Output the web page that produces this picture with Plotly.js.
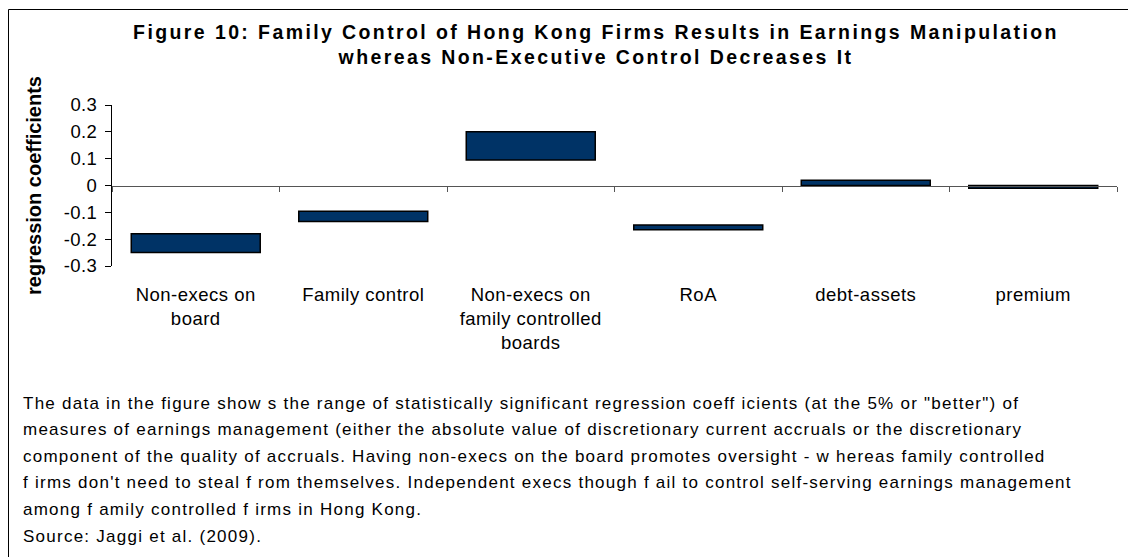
<!DOCTYPE html>
<html>
<head>
<meta charset="utf-8">
<script src="https://cdn.plot.ly/plotly-3.0.1.min.js"></script>
<style>
html, body { margin: 0; padding: 0; background: #fff; }
#chart { width: 1128px; height: 557px; }
#chart .gtitle { letter-spacing: 2.4px; }
#chart .annotation-text { letter-spacing: 1.25px; }
#chart .xtick text { letter-spacing: 0.5px; }
#chart .ytick text { letter-spacing: 0.4px; }
</style>
</head>
<body>
<div id="chart"></div>
<script>
// ---- data ----
const categories = ['Non-execs on board', 'Family control', 'Non-execs on family controlled boards', 'RoA', 'debt-assets', 'premium'];
const categoryLabels = ['Non-execs on<br>board', 'Family control', 'Non-execs on<br>family controlled<br>boards', 'RoA', 'debt-assets', 'premium'];
const lowValues = [-0.25, -0.134, 0.095, -0.165, 0.0, -0.01];
const highValues = [-0.18, -0.096, 0.2, -0.147, 0.02, 0.0];
const yTickVals = [-0.3, -0.2, -0.1, 0, 0.1, 0.2, 0.3];
const yTickText = ['-0.3', '-0.2', '-0.1', '0', '0.1', '0.2', '0.3'];
const titleText = 'Figure 10: Family Control of Hong Kong Firms Results in Earnings Manipulation<br>whereas Non-Executive Control Decreases It';
const yTitle = 'regression coefficients';
const noteLines = [
  'The data in the figure show s the range of statistically significant regression coeff icients (at the 5% or "better") of',
  'measures of earnings management (either the absolute value of discretionary current accruals or the discretionary',
  'component of the quality of accruals. Having non-execs on the board promotes oversight - w hereas family controlled',
  'f irms don\'t need to steal f rom themselves. Independent execs though f ail to control self-serving earnings management',
  'among f amily controlled f irms in Hong Kong.',
  'Source: Jaggi et al. (2009).'
];

// ---- layout geometry ----
const W = 1128, H = 557;
const M = { l: 112, r: 11, t: 105, b: 291 };
const plotW = W - M.l - M.r, plotH = H - M.t - M.b;
const px2x = px => (px - M.l) / plotW;
const py2y = py => (H - M.b - py) / plotH;

const FONT = 'Arial, "Liberation Sans", sans-serif';

const barTrace = {
  type: 'bar',
  x: categories,
  base: lowValues,
  y: highValues.map((h, i) => h - lowValues[i]),
  marker: { color: '#003366', line: { color: '#000000', width: 1.5 } },
  hoverinfo: 'skip',
  showlegend: false
};

// invisible helper trace so the zero-line category axis exists
const axisTrace = {
  type: 'scatter',
  mode: 'none',
  x: categories,
  y: categories.map(() => 0),
  xaxis: 'x2',
  hoverinfo: 'skip',
  showlegend: false
};

const noteBaselines = [409, 436, 462.5, 489, 516, 542.5];
const annotations = noteLines.map((t, i) => ({
  xref: 'paper', yref: 'paper',
  x: px2x(21), y: py2y(noteBaselines[i] - 6),
  xanchor: 'left', yanchor: 'middle', align: 'left',
  text: t, showarrow: false,
  font: { family: FONT, size: 17, color: '#000' }
}));

const layout = {
  width: W, height: H,
  margin: M,
  paper_bgcolor: '#ffffff',
  plot_bgcolor: '#ffffff',
  bargap: 0.23,
  showlegend: false,
  title: {
    text: titleText,
    font: { family: FONT, size: 19.5, color: '#000', weight: 'bold' },
    xref: 'container', x: 596 / W, xanchor: 'center',
    yref: 'container', y: 1 - 39 / H, yanchor: 'top'
  },
  xaxis: {
    type: 'category',
    tickmode: 'array',
    tickvals: categories,
    ticktext: categoryLabels,
    showline: false, showgrid: false, zeroline: false,
    ticks: '', ticklabelstandoff: 15,
    tickfont: { family: FONT, size: 18.5, color: '#000' },
    fixedrange: true
  },
  xaxis2: {
    type: 'category',
    overlaying: 'x',
    matches: 'x',
    anchor: 'free',
    position: 0.5,
    side: 'bottom',
    showline: true, linecolor: '#555', linewidth: 1,
    ticks: 'outside', tickson: 'boundaries', ticklen: 5, tickcolor: '#555', tickwidth: 1,
    showticklabels: false, showgrid: false, zeroline: false
  },
  yaxis: {
    range: [-0.3, 0.3],
    tickmode: 'array',
    tickvals: yTickVals,
    ticktext: yTickText,
    showline: true, linecolor: '#000', linewidth: 1,
    ticks: 'outside', ticklen: 6, tickcolor: '#000',
    showgrid: false, zeroline: false,
    tickfont: { family: FONT, size: 18.5, color: '#000' },
    ticklabelstandoff: 4,
    title: { text: yTitle, font: { family: FONT, size: 20, color: '#000', weight: 'bold' }, standoff: 18 },
    fixedrange: true
  },
  shapes: [
    { type: 'line', xref: 'paper', yref: 'paper', x0: px2x(8.5), x1: px2x(W + 5), y0: py2y(9.5), y1: py2y(9.5), line: { color: '#000', width: 1 } },
    { type: 'line', xref: 'paper', yref: 'paper', x0: px2x(8.5), x1: px2x(8.5), y0: py2y(9.5), y1: py2y(H + 5), line: { color: '#000', width: 1 } }
  ],
  annotations: annotations
};

Plotly.newPlot('chart', [barTrace, axisTrace], layout, { displayModeBar: false, staticPlot: true });
</script>
</body>
</html>
